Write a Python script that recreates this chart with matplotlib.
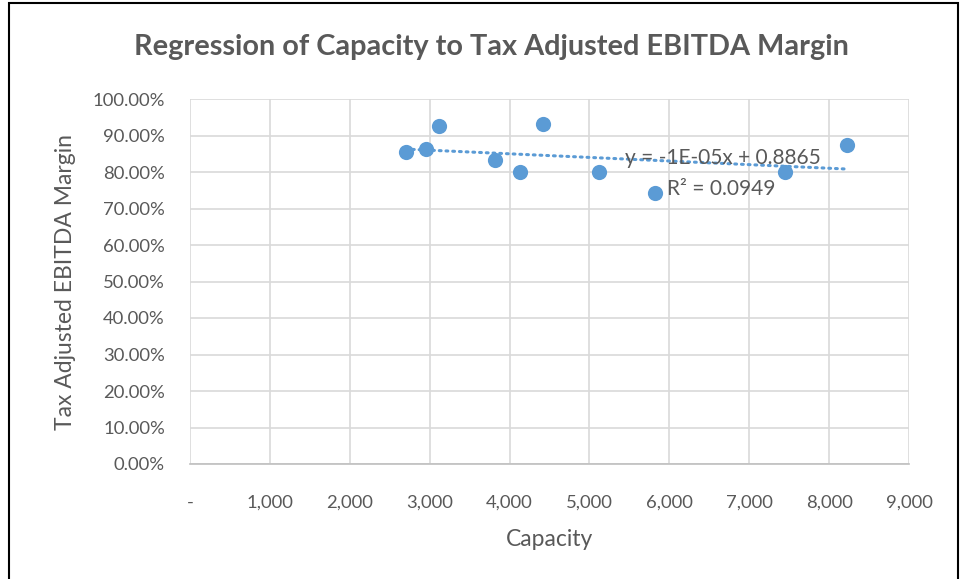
import matplotlib
matplotlib.use("Agg")
import matplotlib.pyplot as plt
import matplotlib.ticker as mticker
import numpy as np
from matplotlib.patches import Rectangle

# values
capacity = [2700, 2950, 3120, 3820, 4125, 4420, 5120, 5820, 7450, 8220]
margin = [0.855, 0.862, 0.925, 0.832, 0.800, 0.932, 0.799, 0.743, 0.801, 0.873]
eq_text = "y = -1E-05x + 0.8865"
r2_text = "R² = 0.0949"

TEXT = "#595959"
GRID = "#d9d9d9"
BLUE = "#5b9bd5"

plt.rcParams["font.family"] = ["Lato", "DejaVu Sans"]

fig = plt.figure(figsize=(9.61, 5.79), dpi=100)
ax = fig.add_axes([190 / 961, 1 - 464 / 579, (909 - 190) / 961, (464 - 99) / 579])

ax.scatter(capacity, margin, s=120, color=BLUE, zorder=3, linewidths=0)

slope, intercept = np.polyfit(capacity, margin, 1)
xs = np.array([min(capacity), max(capacity)])
ax.plot(xs, slope * xs + intercept, color=BLUE, lw=2.2,
        linestyle=(0, (0.6, 1.6)), dash_capstyle="round", zorder=2)

ax.text(5450, 0.838, eq_text, fontsize=15, color=TEXT, va="center")
ax.text(5970, 0.753, r2_text, fontsize=15, color=TEXT, va="center")

ax.set_xlim(0, 9000)
ax.set_ylim(0, 1.0)
ax.xaxis.set_major_locator(mticker.MultipleLocator(1000))
ax.yaxis.set_major_locator(mticker.MultipleLocator(0.1))
ax.xaxis.set_major_formatter(
    mticker.FuncFormatter(lambda v, p: "-" if v == 0 else f"{v:,.0f}"))
ax.yaxis.set_major_formatter(mticker.FuncFormatter(lambda v, p: f"{v * 100:.2f}%"))

ax.grid(True, color=GRID, lw=1.2)
ax.set_axisbelow(True)
for side in ["left", "top", "right"]:
    ax.spines[side].set_visible(False)
ax.spines["bottom"].set_color("#bfbfbf")
ax.spines["bottom"].set_linewidth(1.2)
ax.tick_params(length=0, labelsize=13.3, labelcolor=TEXT)
ax.tick_params(axis="x", pad=22)
ax.tick_params(axis="y", pad=18)

ax.set_xlabel("Capacity", fontsize=16.5, color=TEXT, labelpad=13)
ax.set_ylabel("Tax Adjusted EBITDA Margin", fontsize=16.5, color=TEXT, labelpad=12)

fig.suptitle("Regression of Capacity to Tax Adjusted EBITDA Margin",
             x=491 / 961, y=1 - 47 / 579, va="center", fontsize=20.8,
             fontweight="bold", color=TEXT)

fig.patches.append(Rectangle((9 / 961, -0.05), (958 - 9) / 961, 1.05 - 3 / 579,
                             transform=fig.transFigure, fill=False,
                             edgecolor="black", lw=1.5))

fig.savefig("out.png", dpi=100)
